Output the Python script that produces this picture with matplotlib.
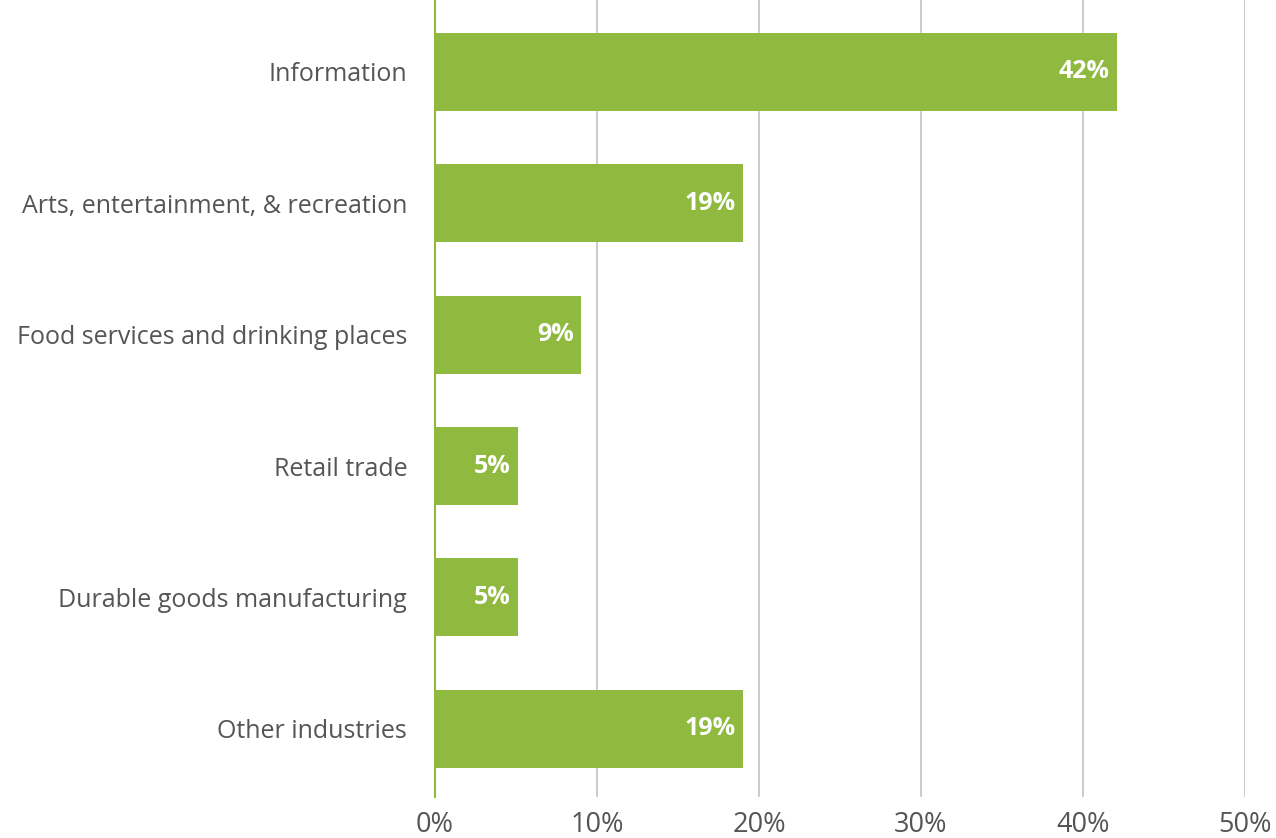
import matplotlib.pyplot as plt
from matplotlib.ticker import FuncFormatter

categories = ["Information", "Arts, entertainment, & recreation", "Food services and drinking places",
              "Retail trade", "Durable goods manufacturing", "Other industries"]
shares = [42.1, 19.0, 9.0, 5.1, 5.1, 19.0]
share_labels = ["42%", "19%", "9%", "5%", "5%", "19%"]
x_ticks = [0, 10, 20, 30, 40, 50]

GREEN = "#8fb93f"
GRID = "#c4c4c4"
TEXT = "#555555"

plt.rcParams["font.family"] = ["Open Sans", "DejaVu Sans"]

fig = plt.figure(figsize=(12.76, 8.38), dpi=100)
ax = fig.add_axes((435 / 1276, 41 / 838, 810 / 1276, 797 / 838))

positions = list(range(len(categories)))
ax.barh(positions, shares, height=0.594, color=GREEN, zorder=3)
for pos, value, label in zip(positions, shares, share_labels):
    ax.text(value - 0.45, pos, label, ha="right", va="center", color="white", fontsize=18,
            fontweight="bold", zorder=4)

ax.set_xlim(0, 50)
ax.set_ylim(5.52, -0.548)
ax.set_xticks(x_ticks)
ax.xaxis.set_major_formatter(FuncFormatter(lambda v, _: f"{v:.0f}%"))
ax.set_yticks(positions)
ax.set_yticklabels(categories, fontweight="medium")
ax.tick_params(axis="y", length=0, pad=20, labelsize=18, labelcolor=TEXT)
ax.tick_params(axis="x", length=0, pad=10, labelsize=19.5, labelcolor=TEXT)
ax.grid(axis="x", color=GRID, linewidth=1.2, zorder=0)
for side in ("top", "right", "bottom"):
    ax.spines[side].set_visible(False)
ax.spines["left"].set_color(GREEN)
ax.spines["left"].set_linewidth(1.5)
ax.spines["left"].set_zorder(5)

fig.savefig("out.png", dpi=100)
